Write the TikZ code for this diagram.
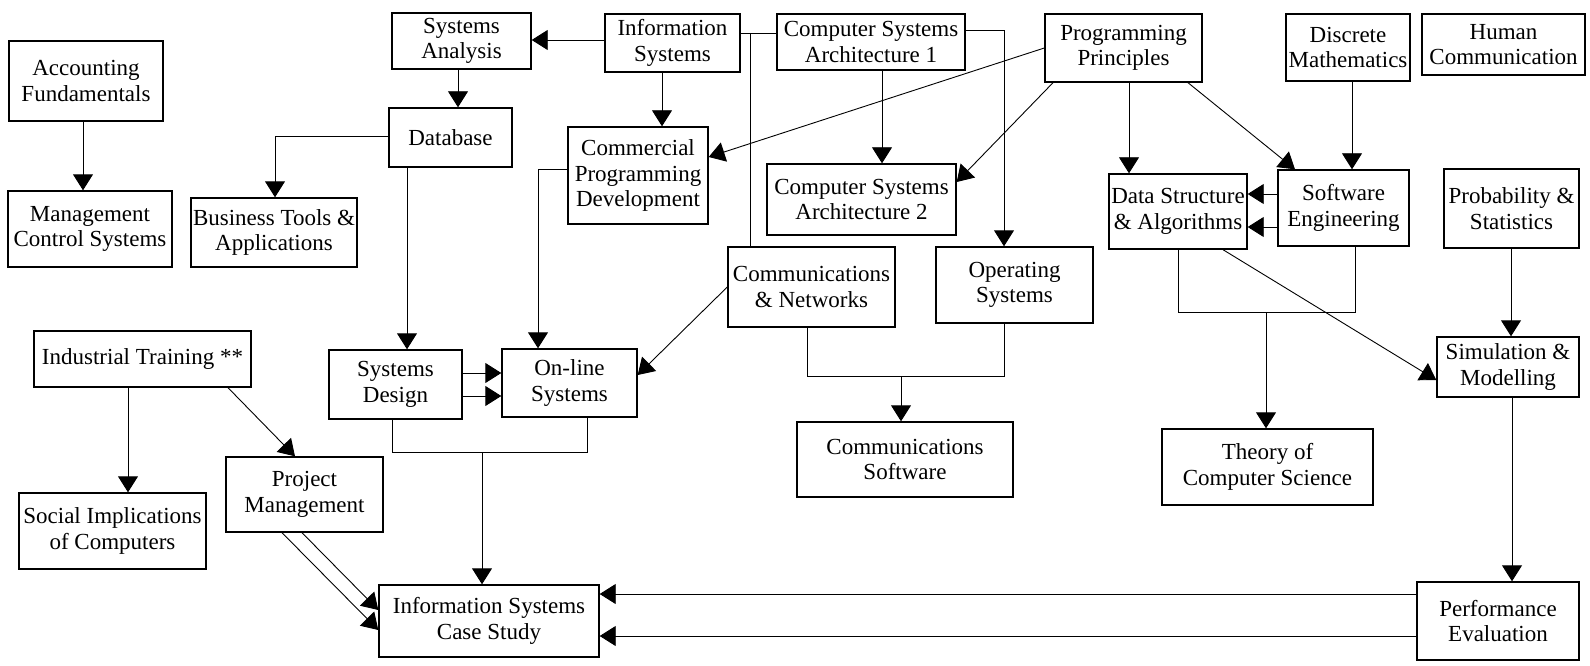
\documentclass[tikz,border=0pt]{standalone}
\usepackage{fontspec}
\setmainfont{Liberation Serif}
\usetikzlibrary{arrows.meta}
\begin{document}
\begin{tikzpicture}[x=1pt, y=-1pt,
  box/.style={draw, line width=1.4pt, inner sep=0pt, align=center,
    font=\fontsize{23}{25.5}\selectfont},
  link/.style={line width=0.9pt},
  arr/.style={link, -{Triangle[length=16pt,width=20pt]}}]
\fill[white] (0,0) rectangle (1590,666);
\useasboundingbox (0,0) rectangle (1590,666);

% courses
\node[box, minimum width=154pt, minimum height=80pt] (acc) at (86,81) {Accounting\\Fundamentals};
\node[box, minimum width=164pt, minimum height=76pt] (mcs) at (90,229) {Management\\Control Systems};
\node[box, minimum width=166pt, minimum height=69pt] (bta) at (274,232.5) {Business Tools \&\\Applications};
\node[box, minimum width=139pt, minimum height=56pt] (sa) at (461.5,41) {Systems\\Analysis};
\node[box, minimum width=123pt, minimum height=59pt] (db) at (450.5,137.5) {Database};
\node[box, minimum width=135pt, minimum height=58pt] (is) at (672.5,43) {Information\\Systems};
\node[box, minimum width=140pt, minimum height=97pt] (cpd) at (638,175.5) {Commercial\\Programming\\Development};
\node[box, minimum width=188pt, minimum height=56pt] (csa1) at (871,42) {Computer Systems\\Architecture 1};
\node[box, minimum width=189pt, minimum height=71pt] (csa2) at (861.5,199.5) {Computer Systems\\Architecture 2};
\node[box, minimum width=157pt, minimum height=68pt] (pp) at (1123.5,48) {Programming\\Principles};
\node[box, minimum width=124pt, minimum height=67pt] (dm) at (1348,47.5) {Discrete\\Mathematics};
\node[box, minimum width=163pt, minimum height=61pt] (hc) at (1503.5,44.5) {Human\\Communication};
\node[box, minimum width=138pt, minimum height=75pt] (dsa) at (1178,211.5) {Data Structure\\\& Algorithms};
\node[box, minimum width=131pt, minimum height=76pt] (se) at (1343.5,208) {Software\\Engineering};
\node[box, minimum width=135pt, minimum height=79pt] (ps) at (1511.5,208.5) {Probability \&\\Statistics};
\node[box, minimum width=167pt, minimum height=80pt] (cn) at (811.5,287) {Communications\\\& Networks};
\node[box, minimum width=157pt, minimum height=76pt] (os) at (1014.5,285) {Operating\\Systems};
\node[box, minimum width=133pt, minimum height=69pt] (sd) at (395.5,384.5) {Systems\\Design};
\node[box, minimum width=135pt, minimum height=68pt] (ol) at (569.5,383) {On-line\\Systems};
\node[box, minimum width=217pt, minimum height=56pt] (it) at (142.5,359) {Industrial Training **};
\node[box, minimum width=187pt, minimum height=76pt] (sic) at (112.5,531) {Social Implications\\of Computers};
\node[box, minimum width=157pt, minimum height=75pt] (pm) at (304.5,494.5) {Project\\Management};
\node[box, minimum width=220pt, minimum height=72pt] (iscs) at (489,621) {Information Systems\\Case Study};
\node[box, minimum width=216pt, minimum height=75pt] (cs) at (905,459.5) {Communications\\Software};
\node[box, minimum width=211pt, minimum height=76pt] (tcs) at (1267.5,467) {Theory of\\Computer Science};
\node[box, minimum width=142pt, minimum height=60pt] (sm) at (1508,367) {Simulation \&\\Modelling};
\node[box, minimum width=162pt, minimum height=78pt] (pe) at (1498,621) {Performance\\Evaluation};

% junction points of merged lines
\coordinate (ij) at (750,33);
\coordinate (nj) at (901,376);
\coordinate (cj) at (482,452);
\coordinate (tj) at (1266,312);

% left column
\draw[arr] (acc.south -| 83,0) -- (mcs.north -| 83,0);
\draw[arr] (it.south -| 128,0) -- (sic.north -| 128,0);
\draw[arr] (it.south -| 228,0) -- (pm.north -| 295,0);
\draw[arr] (pm.south -| 282,0) -- (iscs.west |- 0,630);
\draw[arr] (pm.south -| 302,0) -- (iscs.west |- 0,610);

% information systems stream
\draw[arr] (is.west |- 0,40) -- (sa.east |- 0,40);
\draw[arr] (sa.south -| 458,0) -- (db.north -| 458,0);
\draw[arr] (db.west |- 0,136) -| (bta.north -| 275,0);
\draw[arr] (db.south -| 407,0) -- (sd.north -| 407,0);
\draw[arr] (is.south -| 662,0) -- (cpd.north -| 662,0);
\draw[arr] (cpd.west |- 0,169) -| (ol.north -| 538,0);
\draw[arr] (sd.east |- 0,373) -- (ol.west |- 0,373);
\draw[arr] (sd.east |- 0,396) -- (ol.west |- 0,396);
\draw[link] (sd.south -| 392,0) |- (587,452) -- (ol.south -| 587,0);
\draw[arr] (cj) -- (iscs.north -| cj);

% systems architecture and networks
\draw[link] (is.east |- ij) -- (csa1.west |- ij);
\draw[link] (ij) -- (cn.north -| ij);
\draw[arr] (csa1.south -| 882,0) -- (csa2.north -| 882,0);
\draw[arr] (csa1.east |- 0,30) -| (os.north -| 1004,0);
\draw[arr] (cn.west |- 0,287) -- (ol.east |- 0,375);
\draw[link] (cn.south -| 807,0) |- (1004,376) -- (os.south -| 1004,0);
\draw[arr] (nj) -- (cs.north -| nj);

% programming stream
\draw[arr] (pp.west) -- (cpd.east |- 0,157);
\draw[arr] (pp.south -| 1053,0) -- (csa2.east |- 0,182);
\draw[arr] (pp.south -| 1129,0) -- (dsa.north -| 1129,0);
\draw[arr] (pp.south -| 1188,0) -- (se.north -| 1295,0);
\draw[arr] (dm.south -| 1352,0) -- (se.north -| 1352,0);
\draw[arr] (se.west |- 0,194) -- (dsa.east |- 0,194);
\draw[arr] (se.west |- 0,227) -- (dsa.east |- 0,227);
\draw[link] (dsa.south -| 1178,0) |- (1355,312) -- (se.south -| 1355,0);
\draw[arr] (tj) -- (tcs.north -| tj);
\draw[arr] (dsa.south -| 1223,0) -- (sm.west |- 0,380);

% quantitative stream
\draw[arr] (ps.south -| 1511,0) -- (sm.north -| 1511,0);
\draw[arr] (sm.south -| 1512,0) -- (pe.north -| 1512,0);
\draw[arr] (pe.west |- 0,594) -- (iscs.east |- 0,594);
\draw[arr] (pe.west |- 0,636) -- (iscs.east |- 0,636);
\end{tikzpicture}
\end{document}
